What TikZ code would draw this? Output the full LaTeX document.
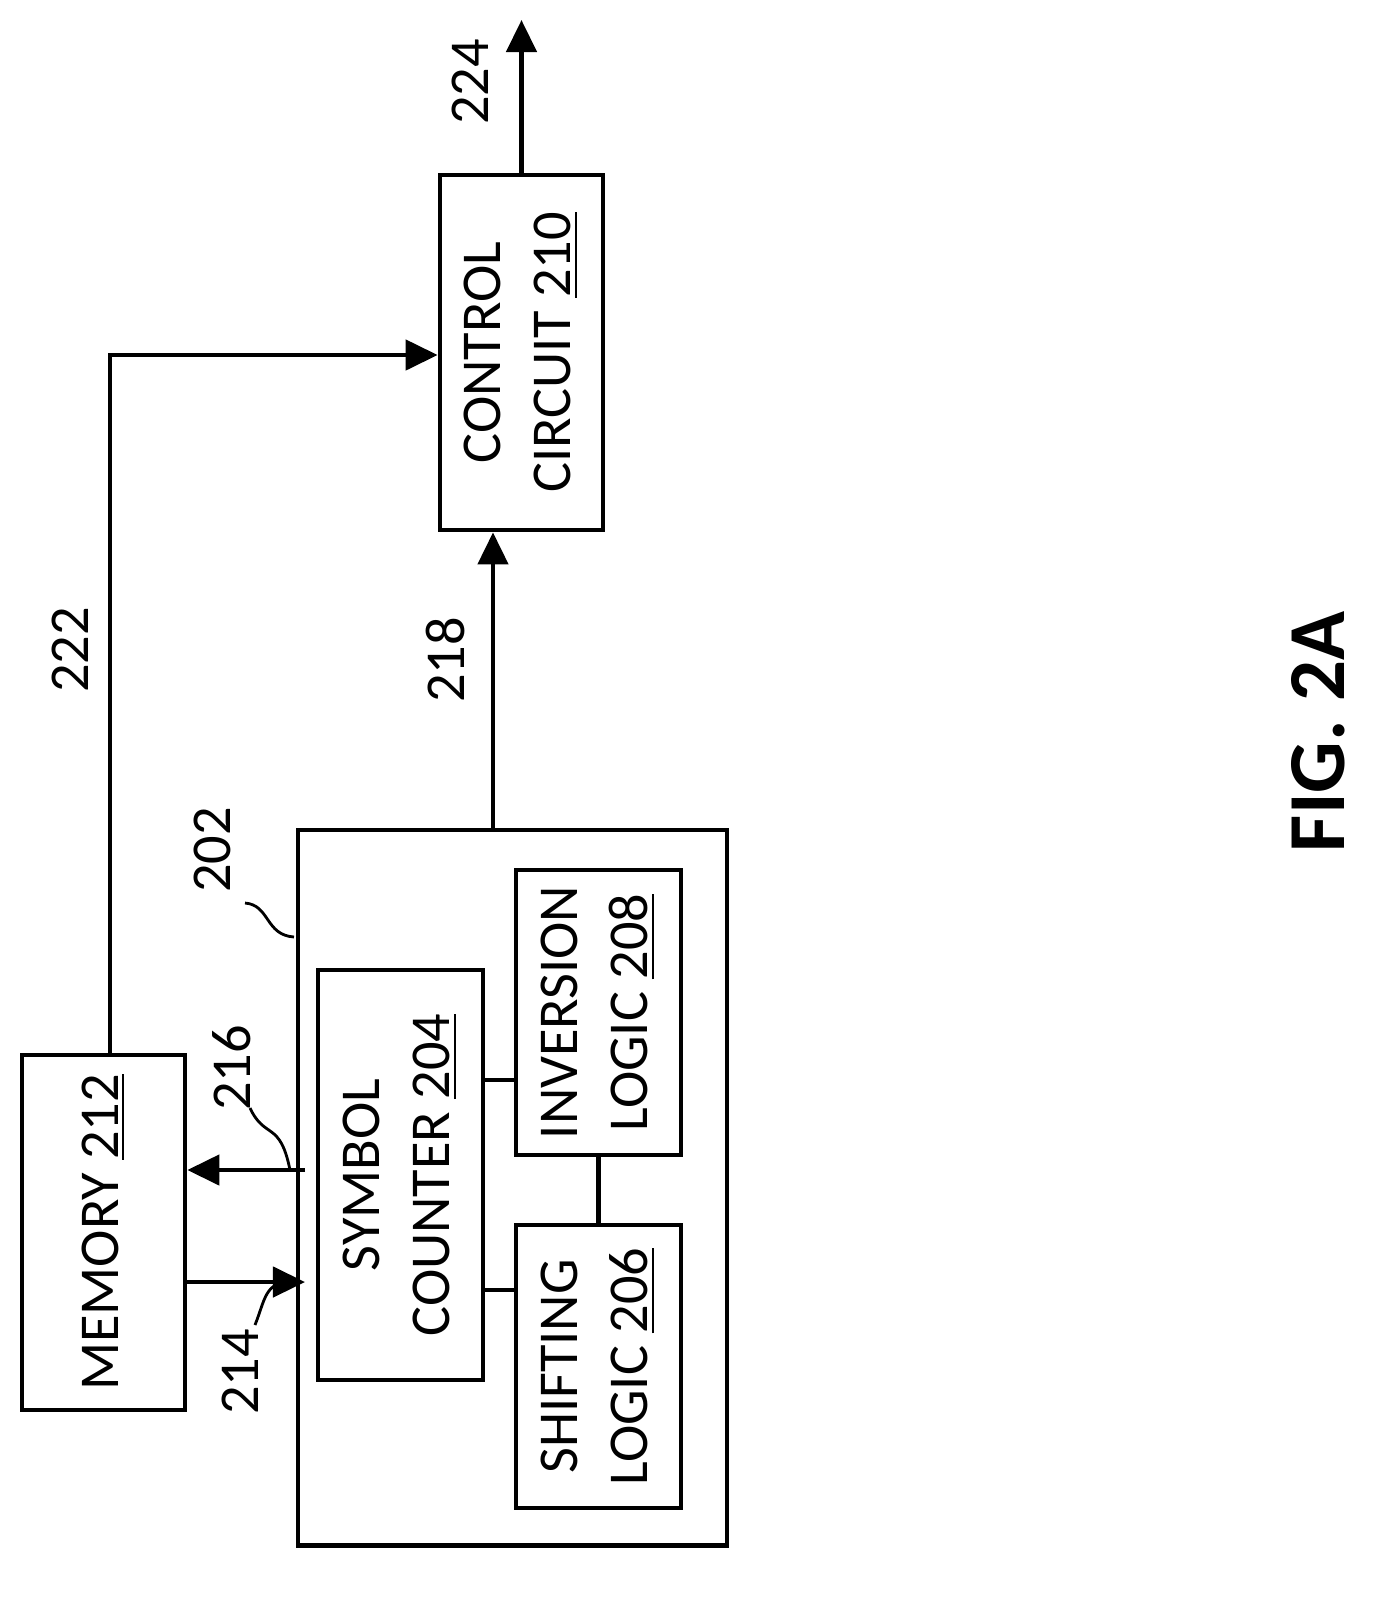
\documentclass[tikz,border=0pt]{standalone}
\usepackage{fontspec}
\setmainfont{Carlito}
\usetikzlibrary{arrows.meta}
\tikzset{
  blk/.style={draw, line width=1.3pt, inner sep=0pt},
  wire/.style={line width=1.3pt},
  sig/.style={wire, -{Triangle[length=3.2mm,width=3mm]}},
  lbl/.style={rotate=90, font=\fontsize{16}{19}\selectfont},
  txt/.style={font=\fontsize{16}{20}\selectfont, align=center},
  lead/.style={line width=0.8pt}
}
\begin{document}
\begin{tikzpicture}[x=0.01cm, y=-0.01cm]
\useasboundingbox (0,0) rectangle (1385,1599);

% boxes
\node[blk, minimum width=1.63cm, minimum height=3.55cm] (mem) at (103.5,1232.5) {};
\node[txt] at (mem) {\rotatebox{90}{MEMORY \underline{212}}};
\node[blk, minimum width=4.29cm, minimum height=7.15cm] (proc) at (512.5,1187.5) {};
\node[blk, minimum width=1.65cm, minimum height=4.10cm] (sym) at (400.5,1175) {};
\node[txt] at (sym) {\rotatebox{90}{\begin{tabular}{c}SYMBOL\\COUNTER \underline{204}\end{tabular}}};
\node[blk, minimum width=1.65cm, minimum height=2.85cm] (inv) at (598.5,1012.5) {};
\node[txt] at (inv) {\rotatebox{90}{\begin{tabular}{c}INVERSION\\LOGIC \underline{208}\end{tabular}}};
\node[blk, minimum width=1.65cm, minimum height=2.83cm] (shf) at (598.5,1366.5) {};
\node[txt] at (shf) {\rotatebox{90}{\begin{tabular}{c}SHIFTING\\LOGIC \underline{206}\end{tabular}}};
\node[blk, minimum width=1.63cm, minimum height=3.55cm] (ctl) at (521.5,352.5) {};
\node[txt] at (ctl) {\rotatebox{90}{\begin{tabular}{c}CONTROL\\CIRCUIT \underline{210}\end{tabular}}};

% internal links
\draw[wire] (sym.east |- 0,1080) -- (inv.west |- 0,1080);
\draw[wire] (sym.east |- 0,1290) -- (shf.west |- 0,1290);
\draw[wire] (inv.south) -- (shf.north);

% signals
\coordinate (out) at (521.5,20);
\draw[sig] (ctl.north) -- (out);
\node[lbl] (l224) at (470,82) {224};
\draw[sig] (proc.north -| 493,0) -- (ctl.south -| 493,0);
\node[lbl] (l218) at (445,660) {218};
\draw[sig] (mem.north -| 110,0) |- (ctl.west |- 0,355);
\node[lbl] (l222) at (70,650) {222};
\draw[sig] (305,1170) -- (mem.east |- 0,1170);
\draw[sig] (mem.east |- 0,1282) -- (305,1282);
\node[lbl] (l216) at (232,1068) {216};
\node[lbl] (l214) at (240,1372) {214};
\node[lbl] (l202) at (212,850) {202};
\draw[lead] (290,1170) .. controls (280,1120) and (265,1140) .. (250,1108);
\draw[lead] (290,1282) .. controls (265,1282) and (265,1300) .. (255,1325);
\draw[lead] (294,937) .. controls (265,935) and (270,905) .. (245,903);

\node[lbl, font=\fontsize{23}{27}\selectfont\bfseries] (fig) at (1318,732) {FIG. 2A};
\end{tikzpicture}
\end{document}
